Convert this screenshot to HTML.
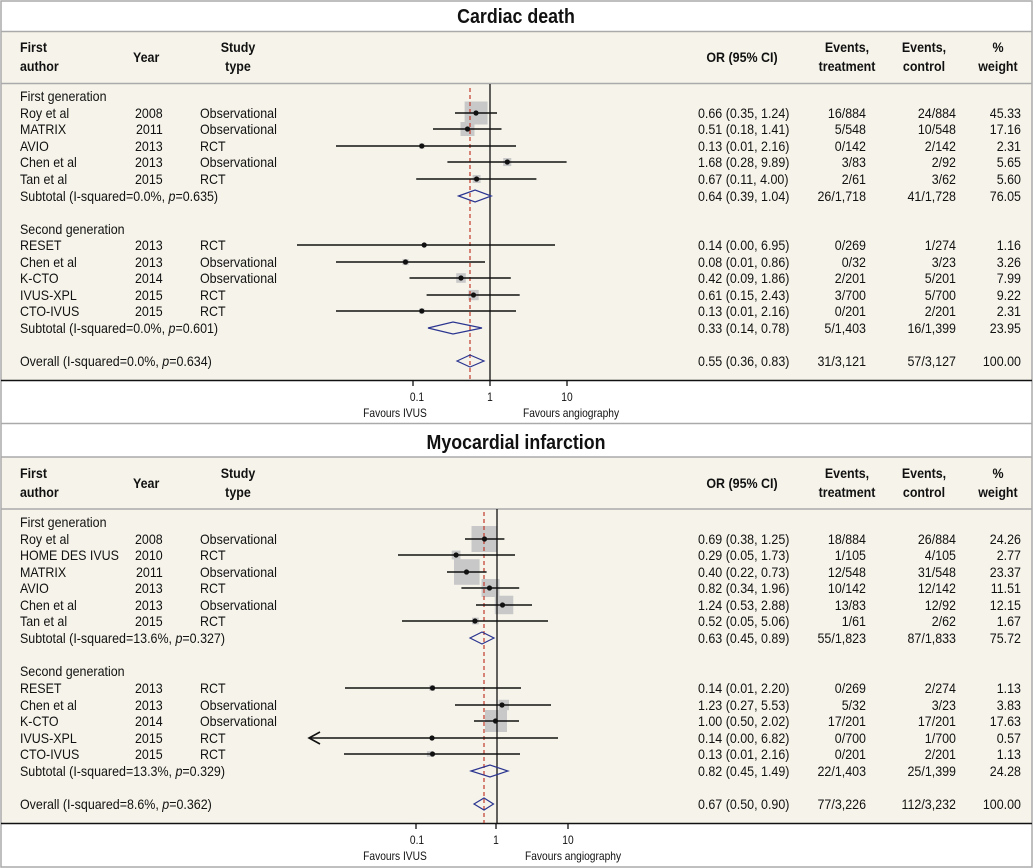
<!DOCTYPE html>
<html><head><meta charset="utf-8"><style>
html,body{margin:0;padding:0;background:#fff}
svg{display:block}
text{font-family:"Liberation Sans Narrow","Liberation Sans",sans-serif;font-size:14px;fill:#111;transform-box:fill-box;transform-origin:left center;transform:scaleX(0.89)}
.b{font-weight:bold}
.t{font-weight:bold;font-size:20px}
.s{font-size:11.5px}
.r{text-anchor:end;transform-origin:right center}
.m{text-anchor:middle;transform-origin:center center}
.ci{stroke:#111;stroke-width:1.6}
.bx{fill:#c8c8c8}
.dm{fill:none;stroke:#2b3590;stroke-width:1.2}
</style></head><body>
<svg width="1033" height="868" viewBox="0 0 1033 868" xmlns="http://www.w3.org/2000/svg">
<rect x="0" y="0" width="1033" height="868" fill="#fff"/>
<rect x="1" y="32" width="1031" height="348" fill="#f6f4ea"/>
<rect x="1" y="457" width="1031" height="366" fill="#f6f4ea"/>
<g stroke="#aaa" stroke-width="1.5" fill="none">
<rect x="1" y="1" width="1031" height="866"/>
<line x1="1" y1="31.5" x2="1032" y2="31.5"/>
<line x1="1" y1="83.5" x2="1032" y2="83.5"/>
<line x1="1" y1="423.5" x2="1032" y2="423.5"/>
<line x1="1" y1="457" x2="1032" y2="457"/>
<line x1="1" y1="509" x2="1032" y2="509"/>
</g>
<line x1="1" y1="380.5" x2="1032" y2="380.5" stroke="#111" stroke-width="1.5"/>
<line x1="1" y1="823.5" x2="1032" y2="823.5" stroke="#111" stroke-width="1.5"/>

<text class="t m" x="516" y="23">Cardiac death</text>
<text class="b" x="20" y="52">First</text><text class="b" x="20" y="71">author</text>
<text class="b" x="133" y="62">Year</text>
<text class="b m" x="238" y="52">Study</text><text class="b m" x="238" y="71">type</text>
<text class="b m" x="742" y="62">OR (95% CI)</text>
<text class="b m" x="847" y="52">Events,</text><text class="b m" x="847" y="71">treatment</text>
<text class="b m" x="924" y="52">Events,</text><text class="b m" x="924" y="71">control</text>
<text class="b m" x="998" y="52">%</text><text class="b m" x="998" y="71">weight</text>

<g>
<text x="20" y="101">First generation</text>
<text x="20" y="118">Roy et al</text><text x="135" y="118">2008</text><text x="200" y="118">Observational</text><text x="698" y="118">0.66 (0.35, 1.24)</text><text class="r" x="866" y="118">16/884</text><text class="r" x="956" y="118">24/884</text><text class="r" x="1021" y="118">45.33</text>
<text x="20" y="134">MATRIX</text><text x="136" y="134">2011</text><text x="200" y="134">Observational</text><text x="698" y="134">0.51 (0.18, 1.41)</text><text class="r" x="866" y="134">5/548</text><text class="r" x="956" y="134">10/548</text><text class="r" x="1021" y="134">17.16</text>
<text x="20" y="151">AVIO</text><text x="135" y="151">2013</text><text x="200" y="151">RCT</text><text x="698" y="151">0.13 (0.01, 2.16)</text><text class="r" x="866" y="151">0/142</text><text class="r" x="956" y="151">2/142</text><text class="r" x="1021" y="151">2.31</text>
<text x="20" y="167">Chen et al</text><text x="135" y="167">2013</text><text x="200" y="167">Observational</text><text x="698" y="167">1.68 (0.28, 9.89)</text><text class="r" x="866" y="167">3/83</text><text class="r" x="956" y="167">2/92</text><text class="r" x="1021" y="167">5.65</text>
<text x="20" y="184">Tan et al</text><text x="135" y="184">2015</text><text x="200" y="184">RCT</text><text x="698" y="184">0.67 (0.11, 4.00)</text><text class="r" x="866" y="184">2/61</text><text class="r" x="956" y="184">3/62</text><text class="r" x="1021" y="184">5.60</text>
<text x="20" y="201">Subtotal (I-squared=0.0%, <tspan font-style="italic">p</tspan>=0.635)</text><text x="698" y="201">0.64 (0.39, 1.04)</text><text class="r" x="866" y="201">26/1,718</text><text class="r" x="956" y="201">41/1,728</text><text class="r" x="1021" y="201">76.05</text>
<text x="20" y="234">Second generation</text>
<text x="20" y="250">RESET</text><text x="135" y="250">2013</text><text x="200" y="250">RCT</text><text x="698" y="250">0.14 (0.00, 6.95)</text><text class="r" x="866" y="250">0/269</text><text class="r" x="956" y="250">1/274</text><text class="r" x="1021" y="250">1.16</text>
<text x="20" y="267">Chen et al</text><text x="135" y="267">2013</text><text x="200" y="267">Observational</text><text x="698" y="267">0.08 (0.01, 0.86)</text><text class="r" x="866" y="267">0/32</text><text class="r" x="956" y="267">3/23</text><text class="r" x="1021" y="267">3.26</text>
<text x="20" y="283">K-CTO</text><text x="135" y="283">2014</text><text x="200" y="283">Observational</text><text x="698" y="283">0.42 (0.09, 1.86)</text><text class="r" x="866" y="283">2/201</text><text class="r" x="956" y="283">5/201</text><text class="r" x="1021" y="283">7.99</text>
<text x="20" y="300">IVUS-XPL</text><text x="135" y="300">2015</text><text x="200" y="300">RCT</text><text x="698" y="300">0.61 (0.15, 2.43)</text><text class="r" x="866" y="300">3/700</text><text class="r" x="956" y="300">5/700</text><text class="r" x="1021" y="300">9.22</text>
<text x="20" y="316">CTO-IVUS</text><text x="135" y="316">2015</text><text x="200" y="316">RCT</text><text x="698" y="316">0.13 (0.01, 2.16)</text><text class="r" x="866" y="316">0/201</text><text class="r" x="956" y="316">2/201</text><text class="r" x="1021" y="316">2.31</text>
<text x="20" y="333">Subtotal (I-squared=0.0%, <tspan font-style="italic">p</tspan>=0.601)</text><text x="698" y="333">0.33 (0.14, 0.78)</text><text class="r" x="866" y="333">5/1,403</text><text class="r" x="956" y="333">16/1,399</text><text class="r" x="1021" y="333">23.95</text>
<text x="20" y="366">Overall (I-squared=0.0%, <tspan font-style="italic">p</tspan>=0.634)</text><text x="698" y="366">0.55 (0.36, 0.83)</text><text class="r" x="866" y="366">31/3,121</text><text class="r" x="956" y="366">57/3,127</text><text class="r" x="1021" y="366">100.00</text>
</g>

<g>
<rect class="bx" x="464.6" y="101.5" width="23" height="23"/>
<rect class="bx" x="460.5" y="122" width="14" height="14"/>
<rect class="bx" x="419.2" y="143.4" width="5.2" height="5.2"/>
<rect class="bx" x="503.2" y="158" width="8.1" height="8.1"/>
<rect class="bx" x="472.6" y="175" width="8" height="8"/>
<rect class="bx" x="422.4" y="243.2" width="3.7" height="3.7"/>
<rect class="bx" x="402.5" y="259" width="6.1" height="6.1"/>
<rect class="bx" x="456.2" y="273.2" width="9.6" height="9.6"/>
<rect class="bx" x="468.4" y="289.9" width="10.3" height="10.3"/>
<rect class="bx" x="419.2" y="308.4" width="5.2" height="5.2"/>
</g>
<line x1="490" y1="84" x2="490" y2="380" stroke="#111" stroke-width="1.3"/>
<line x1="470" y1="88" x2="470" y2="380" stroke="#c0392b" stroke-width="1.2" stroke-dasharray="4,3"/>
<g class="ci">
<line x1="455" y1="113" x2="497" y2="113"/>
<line x1="433" y1="129" x2="501.5" y2="129"/>
<line x1="336" y1="146" x2="516" y2="146"/>
<line x1="447.4" y1="162" x2="566.6" y2="162"/>
<line x1="416.2" y1="179" x2="536.4" y2="179"/>
<line x1="297" y1="245" x2="555" y2="245"/>
<line x1="336" y1="262" x2="485" y2="262"/>
<line x1="409.5" y1="278" x2="510.8" y2="278"/>
<line x1="426.6" y1="295" x2="519.7" y2="295"/>
<line x1="336" y1="311" x2="516" y2="311"/>
</g>
<g fill="#111">
<circle cx="476" cy="113" r="2.6"/><circle cx="467.5" cy="129" r="2.6"/><circle cx="421.8" cy="146" r="2.6"/><circle cx="507.3" cy="162" r="2.6"/><circle cx="476.6" cy="179" r="2.6"/>
<circle cx="424.2" cy="245" r="2.6"/><circle cx="405.5" cy="262" r="2.6"/><circle cx="461" cy="278" r="2.6"/><circle cx="473.5" cy="295" r="2.6"/><circle cx="421.8" cy="311" r="2.6"/>
</g>
<polygon class="dm" points="458.5,196 475.1,190 491.3,196 475.1,202"/>
<polygon class="dm" points="428,328 453,322 482,328 453,334"/>
<polygon class="dm" points="457,361 470,355 484,361 470,367"/>
<g stroke="#111" stroke-width="1.3">
<line x1="413" y1="380" x2="413" y2="386"/><line x1="490" y1="380" x2="490" y2="386"/><line x1="567" y1="380" x2="567" y2="386"/>
</g>
<text class="s m" x="417" y="401">0.1</text><text class="s m" x="490" y="401">1</text><text class="s m" x="567" y="401">10</text>
<text class="s m" x="395" y="417">Favours IVUS</text><text class="s m" x="571" y="417">Favours angiography</text>

<text class="t m" x="516" y="449">Myocardial infarction</text>
<text class="b" x="20" y="478">First</text><text class="b" x="20" y="497">author</text>
<text class="b" x="133" y="488">Year</text>
<text class="b m" x="238" y="478">Study</text><text class="b m" x="238" y="497">type</text>
<text class="b m" x="742" y="488">OR (95% CI)</text>
<text class="b m" x="847" y="478">Events,</text><text class="b m" x="847" y="497">treatment</text>
<text class="b m" x="924" y="478">Events,</text><text class="b m" x="924" y="497">control</text>
<text class="b m" x="998" y="478">%</text><text class="b m" x="998" y="497">weight</text>

<g>
<text x="20" y="527">First generation</text>
<text x="20" y="544">Roy et al</text><text x="135" y="544">2008</text><text x="200" y="544">Observational</text><text x="698" y="544">0.69 (0.38, 1.25)</text><text class="r" x="866" y="544">18/884</text><text class="r" x="956" y="544">26/884</text><text class="r" x="1021" y="544">24.26</text>
<text x="20" y="560">HOME DES IVUS</text><text x="135" y="560">2010</text><text x="200" y="560">RCT</text><text x="698" y="560">0.29 (0.05, 1.73)</text><text class="r" x="866" y="560">1/105</text><text class="r" x="956" y="560">4/105</text><text class="r" x="1021" y="560">2.77</text>
<text x="20" y="577">MATRIX</text><text x="136" y="577">2011</text><text x="200" y="577">Observational</text><text x="698" y="577">0.40 (0.22, 0.73)</text><text class="r" x="866" y="577">12/548</text><text class="r" x="956" y="577">31/548</text><text class="r" x="1021" y="577">23.37</text>
<text x="20" y="593">AVIO</text><text x="135" y="593">2013</text><text x="200" y="593">RCT</text><text x="698" y="593">0.82 (0.34, 1.96)</text><text class="r" x="866" y="593">10/142</text><text class="r" x="956" y="593">12/142</text><text class="r" x="1021" y="593">11.51</text>
<text x="20" y="610">Chen et al</text><text x="135" y="610">2013</text><text x="200" y="610">Observational</text><text x="698" y="610">1.24 (0.53, 2.88)</text><text class="r" x="866" y="610">13/83</text><text class="r" x="956" y="610">12/92</text><text class="r" x="1021" y="610">12.15</text>
<text x="20" y="626">Tan et al</text><text x="135" y="626">2015</text><text x="200" y="626">RCT</text><text x="698" y="626">0.52 (0.05, 5.06)</text><text class="r" x="866" y="626">1/61</text><text class="r" x="956" y="626">2/62</text><text class="r" x="1021" y="626">1.67</text>
<text x="20" y="643">Subtotal (I-squared=13.6%, <tspan font-style="italic">p</tspan>=0.327)</text><text x="698" y="643">0.63 (0.45, 0.89)</text><text class="r" x="866" y="643">55/1,823</text><text class="r" x="956" y="643">87/1,833</text><text class="r" x="1021" y="643">75.72</text>
<text x="20" y="676">Second generation</text>
<text x="20" y="693">RESET</text><text x="135" y="693">2013</text><text x="200" y="693">RCT</text><text x="698" y="693">0.14 (0.01, 2.20)</text><text class="r" x="866" y="693">0/269</text><text class="r" x="956" y="693">2/274</text><text class="r" x="1021" y="693">1.13</text>
<text x="20" y="710">Chen et al</text><text x="135" y="710">2013</text><text x="200" y="710">Observational</text><text x="698" y="710">1.23 (0.27, 5.53)</text><text class="r" x="866" y="710">5/32</text><text class="r" x="956" y="710">3/23</text><text class="r" x="1021" y="710">3.83</text>
<text x="20" y="726">K-CTO</text><text x="135" y="726">2014</text><text x="200" y="726">Observational</text><text x="698" y="726">1.00 (0.50, 2.02)</text><text class="r" x="866" y="726">17/201</text><text class="r" x="956" y="726">17/201</text><text class="r" x="1021" y="726">17.63</text>
<text x="20" y="743">IVUS-XPL</text><text x="135" y="743">2015</text><text x="200" y="743">RCT</text><text x="698" y="743">0.14 (0.00, 6.82)</text><text class="r" x="866" y="743">0/700</text><text class="r" x="956" y="743">1/700</text><text class="r" x="1021" y="743">0.57</text>
<text x="20" y="759">CTO-IVUS</text><text x="135" y="759">2015</text><text x="200" y="759">RCT</text><text x="698" y="759">0.13 (0.01, 2.16)</text><text class="r" x="866" y="759">0/201</text><text class="r" x="956" y="759">2/201</text><text class="r" x="1021" y="759">1.13</text>
<text x="20" y="776">Subtotal (I-squared=13.3%, <tspan font-style="italic">p</tspan>=0.329)</text><text x="698" y="776">0.82 (0.45, 1.49)</text><text class="r" x="866" y="776">22/1,403</text><text class="r" x="956" y="776">25/1,399</text><text class="r" x="1021" y="776">24.28</text>
<text x="20" y="809">Overall (I-squared=8.6%, <tspan font-style="italic">p</tspan>=0.362)</text><text x="698" y="809">0.67 (0.50, 0.90)</text><text class="r" x="866" y="809">77/3,226</text><text class="r" x="956" y="809">112/3,232</text><text class="r" x="1021" y="809">100.00</text>
</g>

<g>
<rect class="bx" x="471.5" y="526" width="26" height="26"/>
<rect class="bx" x="451.7" y="550.6" width="8.8" height="8.8"/>
<rect class="bx" x="454" y="559.2" width="25.6" height="25.6"/>
<rect class="bx" x="481.5" y="579" width="18" height="18"/>
<rect class="bx" x="494.8" y="595.7" width="18.5" height="18.5"/>
<rect class="bx" x="472" y="617.6" width="6.8" height="6.8"/>
<rect class="bx" x="429.3" y="685.2" width="5.6" height="5.6"/>
<rect class="bx" x="498.6" y="699.8" width="10.4" height="10.4"/>
<rect class="bx" x="485" y="710" width="22" height="22"/>
<rect class="bx" x="430.1" y="736" width="4" height="4"/>
<rect class="bx" x="426.9" y="751.2" width="5.6" height="5.6"/>
</g>
<line x1="497" y1="509" x2="497" y2="823" stroke="#111" stroke-width="1.3"/>
<line x1="484" y1="512" x2="484" y2="823" stroke="#c0392b" stroke-width="1.2" stroke-dasharray="4,3"/>
<g class="ci">
<line x1="465" y1="539" x2="504.4" y2="539"/>
<line x1="398" y1="555" x2="515" y2="555"/>
<line x1="447" y1="572" x2="486.6" y2="572"/>
<line x1="461.4" y1="588" x2="519.2" y2="588"/>
<line x1="476" y1="605" x2="532" y2="605"/>
<line x1="402" y1="621" x2="548" y2="621"/>
<line x1="345" y1="688" x2="521" y2="688"/>
<line x1="455" y1="705" x2="551" y2="705"/>
<line x1="474" y1="721" x2="519" y2="721"/>
<line x1="309" y1="738" x2="558" y2="738"/>
<line x1="344" y1="754" x2="520" y2="754"/>
</g>
<polyline points="320,732 309,738 320,744" fill="none" stroke="#111" stroke-width="1.6"/>
<g fill="#111">
<circle cx="484.5" cy="539" r="2.6"/><circle cx="456.1" cy="555" r="2.6"/><circle cx="466.5" cy="572" r="2.6"/><circle cx="489.5" cy="588" r="2.6"/><circle cx="502.5" cy="605" r="2.6"/><circle cx="475" cy="621" r="2.6"/>
<circle cx="432.5" cy="688" r="2.6"/><circle cx="502" cy="705" r="2.6"/><circle cx="495.5" cy="721" r="2.6"/><circle cx="432" cy="738" r="2.6"/><circle cx="432.5" cy="754" r="2.6"/>
</g>
<polygon class="dm" points="470,638 482,632 494,638 482,644"/>
<polygon class="dm" points="471,771 490,765 508,771 490,777"/>
<polygon class="dm" points="474,804 484,798 493.5,804 484,810"/>
<g stroke="#111" stroke-width="1.3">
<line x1="416" y1="823" x2="416" y2="829"/><line x1="496" y1="823" x2="496" y2="829"/><line x1="568" y1="823" x2="568" y2="829"/>
</g>
<text class="s m" x="417" y="844">0.1</text><text class="s m" x="496" y="844">1</text><text class="s m" x="568" y="844">10</text>
<text class="s m" x="395" y="860">Favours IVUS</text><text class="s m" x="573" y="860">Favours angiography</text>
</svg>
</body></html>
